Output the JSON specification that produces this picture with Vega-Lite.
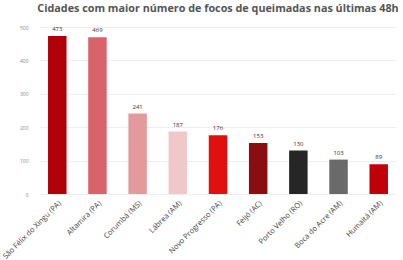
{
  "$schema": "https://vega.github.io/schema/vega-lite/v6.json",
  "width": 403,
  "height": 260,
  "autosize": {"type": "fit", "contains": "padding"},
  "padding": {"left": 3, "right": 7, "top": 3, "bottom": 0},
  "background": "white",
  "title": {
    "text": "Cidades com maior número de focos de queimadas nas últimas 48h",
    "font": "Open Sans",
    "fontSize": 10.8,
    "fontWeight": "bold",
    "color": "#555555",
    "anchor": "middle",
    "offset": 11
  },
  "data": {
    "values": [
      {"cidade": "São Félix do Xingu (PA)", "focos": 473, "cor": "#b00008"},
      {"cidade": "Altamira (PA)", "focos": 469, "cor": "#d9636b"},
      {"cidade": "Corumbá (MS)", "focos": 241, "cor": "#e49a9d"},
      {"cidade": "Lábrea (AM)", "focos": 187, "cor": "#f0c8ca"},
      {"cidade": "Novo Progresso (PA)", "focos": 176, "cor": "#e0100f"},
      {"cidade": "Feijó (AC)", "focos": 153, "cor": "#8a0e10"},
      {"cidade": "Porto Velho (RO)", "focos": 130, "cor": "#262626"},
      {"cidade": "Boca do Acre (AM)", "focos": 103, "cor": "#6a6a6a"},
      {"cidade": "Humaitá (AM)", "focos": 89, "cor": "#c00008"}
    ]
  },
  "encoding": {
    "x": {
      "field": "cidade",
      "type": "nominal",
      "sort": null,
      "title": null,
      "scale": {"paddingInner": 0.54, "paddingOuter": 0.2},
      "axis": {
        "labelAngle": -45,
        "labelFontSize": 7.5,
        "labelColor": "#444444",
        "labelFont": "Open Sans",
        "domain": false,
        "ticks": false,
        "labelPadding": 5
      }
    },
    "y": {
      "field": "focos",
      "type": "quantitative",
      "title": null,
      "scale": {"domain": [0, 500]},
      "axis": {
        "values": [0, 100, 200, 300, 400, 500],
        "labelFontSize": 5,
        "labelColor": "#888888",
        "labelFont": "Open Sans",
        "domain": false,
        "ticks": false,
        "gridColor": "#eeeeee",
        "labelPadding": 12
      }
    }
  },
  "layer": [
    {
      "mark": {"type": "bar"},
      "encoding": {
        "color": {"field": "cor", "type": "nominal", "scale": null, "legend": null}
      }
    },
    {
      "mark": {"type": "text", "dy": -7, "fontSize": 6, "font": "Open Sans", "color": "#333333"},
      "encoding": {"text": {"field": "focos", "type": "quantitative"}}
    }
  ],
  "config": {"view": {"stroke": null}}
}
